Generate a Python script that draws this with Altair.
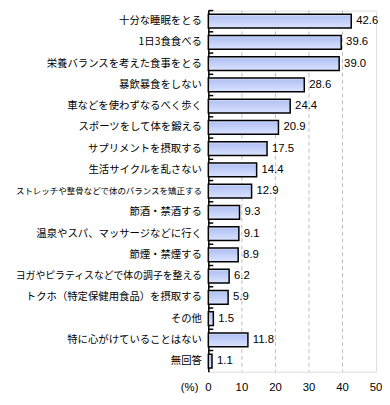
import altair as alt
import pandas as pd

categories = [
    "十分な睡眠をとる",
    "1日3食食べる",
    "栄養バランスを考えた食事をとる",
    "暴飲暴食をしない",
    "車などを使わずなるべく歩く",
    "スポーツをして体を鍛える",
    "サプリメントを摂取する",
    "生活サイクルを乱さない",
    "ストレッチや整骨などで体のバランスを矯正する",
    "節酒・禁酒する",
    "温泉やスパ、マッサージなどに行く",
    "節煙・禁煙する",
    "ヨガやピラティスなどで体の調子を整える",
    "トクホ（特定保健用食品）を摂取する",
    "その他",
    "特に心がけていることはない",
    "無回答",
]
values = [42.6, 39.6, 39.0, 28.6, 24.4, 20.9, 17.5, 14.4, 12.9, 9.3, 9.1, 8.9, 6.2, 5.9, 1.5, 11.8, 1.1]
x_ticks = [0, 10, 20, 30, 40, 50]
unit_label = "(%)"

df = pd.DataFrame({"cat": categories, "val": values})
tick_df = pd.DataFrame({"v": x_ticks})
grid_df = pd.DataFrame({"v": [t for t in x_ticks if 0 < t < 50]})
unit_df = pd.DataFrame({"t": [unit_label]})

W, H = 170, 366
P_IN = 0.35
step = H / len(categories)

label_size = (
    "length(datum.label) > 20 ? 8.6 : (length(datum.label) > 17 ? 10 : 10.5)"
)

x_scale = alt.Scale(domain=[0, 50], nice=False, zero=True)

y_enc = alt.Y(
    "cat:N",
    sort=categories,
    scale=alt.Scale(paddingInner=P_IN, paddingOuter=P_IN / 2),
    axis=alt.Axis(
        title=None,
        ticks=False,
        domain=True,
        domainColor="#000000",
        domainWidth=1.5,
        labelPadding=7,
        labelLimit=400,
        labelColor="#000000",
        labelFont="Noto Sans CJK JP",
        labelFontSize={"expr": label_size},
        grid=False,
    ),
)

gradient = alt.Gradient(
    gradient="linear",
    x1=0, x2=0, y1=0, y2=1,
    stops=[
        alt.GradientStop(color="#e2e8fb", offset=0),
        alt.GradientStop(color="#b3c3f3", offset=0.18),
        alt.GradientStop(color="#c8d4fa", offset=0.6),
        alt.GradientStop(color="#dbe3fe", offset=1),
    ],
)

grid = alt.Chart(grid_df).mark_rule(color="#bdbdbd", strokeDash=[4, 3], strokeWidth=1).encode(
    x=alt.X("v:Q", scale=x_scale, axis=None),
    y=alt.value(0),
    y2=alt.value(H),
)
xlabels = alt.Chart(tick_df).mark_text(baseline="middle", font="Liberation Sans", fontSize=11.5, color="#000000").encode(
    x=alt.X("v:Q", scale=x_scale, axis=None),
    y=alt.value(H + 17),
    text=alt.Text("v:Q", format="d"),
)

base = alt.Chart(df)
bars = base.mark_bar(fill=gradient, stroke="#000000", strokeWidth=1.5).encode(
    x=alt.X("val:Q", scale=x_scale, axis=None), y=y_enc
)
labels = base.mark_text(align="left", baseline="middle", dx=5, font="Liberation Sans", fontSize=11.5, color="#000000").encode(
    x=alt.X("val:Q", scale=x_scale, axis=None),
    y=alt.Y("cat:N", sort=categories),
    text=alt.Text("val:Q", format=".1f"),
)
ticks = base.mark_rule(color="#000000", strokeWidth=1.5, yOffset=-step * P_IN / 2).encode(
    y=alt.Y("cat:N", sort=categories, bandPosition=0),
    x=alt.value(0),
    x2=alt.value(5),
)
unit = alt.Chart(unit_df).mark_text(align="right", baseline="middle", font="Liberation Sans", fontSize=11.5, color="#000000").encode(
    text="t:N",
    x=alt.value(-10),
    y=alt.value(H + 17),
)

chart = (
    alt.layer(grid, bars, ticks, labels, xlabels, unit)
    .properties(
        width=W,
        height=H,
        autosize=alt.AutoSizeParams(type="none"),
        padding={"left": 203, "top": 0, "right": 6, "bottom": 26},
    )
    .configure_view(stroke="#808080", strokeWidth=1.2)
    .configure(background="#ffffff")
)

chart.save("out.html", embed_options={"renderer": "svg", "actions": False})
